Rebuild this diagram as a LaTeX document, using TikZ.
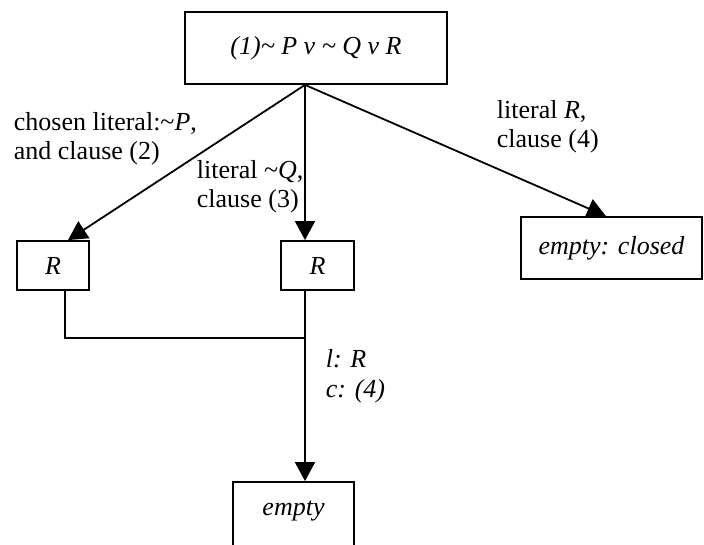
\documentclass[tikz,border=0pt]{standalone}
\usepackage{fontspec}
\setmainfont{Liberation Serif}
\usetikzlibrary{arrows.meta}
\begin{document}
\begin{tikzpicture}[x=1pt,y=-1pt,line width=1.8pt,
  box/.style={draw,rectangle,inner sep=0pt,font=\itshape\fontsize{26}{29.5}\selectfont},
  lbl/.style={inner sep=0pt,align=left,anchor=base west,font=\fontsize{26}{29.5}\selectfont},
  arr/.style={-{Triangle[width=20pt,length=19pt]}}]
\useasboundingbox (0,0) rectangle (704,545);
% boxes
\node[box,minimum width=262pt,minimum height=72pt] (top) at (316,48) {(1)\textasciitilde{} P v \textasciitilde{} Q v R};
\node[box,minimum width=72pt,minimum height=49pt,text height=18pt,text depth=0pt] (lbox) at (53,265.5) {R};
\node[box,minimum width=73pt,minimum height=49pt,text height=18pt,text depth=0pt] (mbox) at (317.5,265.5) {R};
\node[box,minimum width=181pt,minimum height=62pt] (cbox) at (611.5,248) {empty: closed};
\node[box,minimum width=121pt,minimum height=78pt,text height=8pt,text depth=20pt] (ebox) at (293.5,521) {empty};
% labels
\node[lbl] (l1) at (13,160) {chosen literal:\textasciitilde\textit{P},\\and clause (2)};
\node[lbl] (l2) at (196,208) {literal \textasciitilde\textit{Q},\\clause (3)};
\node[lbl] (l3) at (496,148) {literal \textit{R},\\clause (4)};
\node[lbl,font=\itshape\fontsize{26}{29.5}\selectfont] (l4) at (325,397) {l: R\\c: (4)};
% connectors
\coordinate (apex) at (305,0 |- top.south);
\draw[arr] (apex) -- (68,0 |- lbox.north);
\draw[arr] (apex) -- (mbox.north -| apex);
\draw[arr] (apex) -- (606,0 |- cbox.north);
\coordinate (j) at (305,338);
\draw (65,0 |- lbox.south) |- (j);
\draw (mbox.south -| j) -- (j);
\draw[arr] (j) -- (ebox.north -| j);
\end{tikzpicture}
\end{document}
